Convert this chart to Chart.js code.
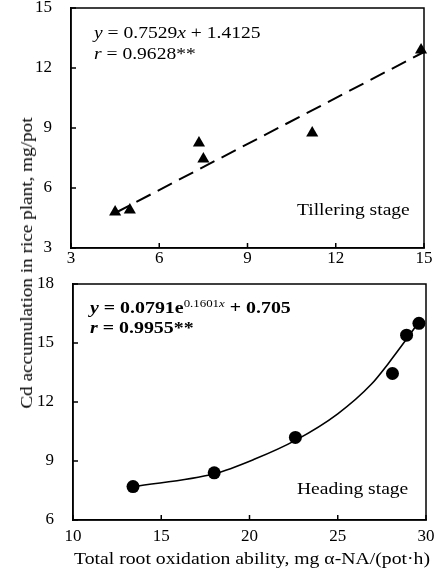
<!DOCTYPE html>
<html>
<head>
<meta charset="utf-8">
<script src="https://cdn.jsdelivr.net/npm/chart.js@4.4.0/dist/chart.umd.min.js"></script>
<style>
  body { margin: 0; background: #fff; }
  #wrap { position: relative; width: 444px; height: 578px; font-family: "Liberation Serif", serif; color: #000; }
  .box { position: absolute; left: 0; width: 444px; }
  .note { position: absolute; font-size: 17px; line-height: 21px; white-space: nowrap;
          transform: scaleX(1.15); transform-origin: 0 0; }
  .bold { font-weight: bold; line-height: 20px; transform: scaleX(1.17); }
  sup { font-size: 11px; font-weight: normal; vertical-align: 6px; line-height: 0; }
  #ytitle { position: absolute; left: 27px; top: 263px; font-size: 17px; white-space: nowrap;
            transform: translate(-50%, -50%) rotate(-90deg) scaleX(1.13); }
  #xtitle { position: absolute; left: 252px; top: 549px; font-size: 17px; white-space: nowrap;
            transform: translateX(-50%) scaleX(1.16); }
</style>
</head>
<body>
<div id="wrap">
  <div class="box" style="top:0;height:270px"><canvas id="tiller" width="444" height="270"></canvas></div>
  <div class="box" style="top:270px;height:308px"><canvas id="heading" width="444" height="308"></canvas></div>

  <div id="ytitle">Cd accumulation in rice plant, mg/pot</div>
  <div id="xtitle">Total root oxidation ability, mg &alpha;-NA/(pot&middot;h)</div>

  <div class="note" style="left:94px;top:22px"><i>y</i> = 0.7529<i>x</i> + 1.4125<br><i>r</i> = 0.9628**</div>
  <div class="note" style="left:297px;top:199px">Tillering stage</div>

  <div class="note bold" style="left:90px;top:298px"><i>y</i> = 0.0791e<sup>0.1601<i>x</i></sup> + 0.705<br><i>r</i> = 0.9955**</div>
  <div class="note" style="left:297px;top:478px">Heading stage</div>
</div>

<script>
// tillering stage: measured points and linear fit ends
const tillerX = [4.5, 5.0, 7.35, 7.5, 11.2, 14.9];
const tillerY = [4.8, 4.9, 8.25, 7.45, 8.75, 12.9];
const tillerFitX = [4.5, 15];
const tillerFitY = [4.75, 12.8];
const tillerTicksX = [3, 6, 9, 12, 15];
const tillerTicksY = [3, 6, 9, 12, 15];

const headX = [13.4, 18.0, 22.6, 28.1, 28.9, 29.6];
const headY = [7.7, 8.4, 10.2, 13.45, 15.4, 16.0];
const headFitX = [13.4, 18.0, 20.3, 22.6, 25.0, 26.9, 27.9, 28.9, 29.5];
const headFitY = [7.7, 8.35, 9.1, 10.05, 11.4, 12.9, 14.0, 15.2, 15.95];
const headTicksX = [10, 15, 20, 25, 30];
const headTicksY = [6, 9, 12, 15, 18];

const ink = '#000';
const tickFont = { family: 'Liberation Serif', size: 17 };

// box round the plot plus short tick marks pointing inwards
const frame = {
  id: 'frame',
  afterDraw(chart) {
    const a = chart.chartArea, ctx = chart.ctx;
    const sx = chart.scales.x, sy = chart.scales.y;
    ctx.save();
    ctx.strokeStyle = ink;
    ctx.lineWidth = 1.5;
    ctx.strokeRect(a.left, a.top, a.right - a.left, a.bottom - a.top);
    ctx.beginPath();
    sx.ticks.forEach(t => {
      const px = sx.getPixelForValue(t.value);
      ctx.moveTo(px, a.bottom);
      ctx.lineTo(px, a.bottom - 5);
    });
    sy.ticks.forEach(t => {
      const py = sy.getPixelForValue(t.value);
      ctx.moveTo(a.left, py);
      ctx.lineTo(a.left + 5, py);
    });
    ctx.stroke();
    ctx.restore();
  }
};

function pts(xs, ys) {
  return xs.map((x, i) => ({ x: x, y: ys[i] }));
}

// fixed axis box, no automatic label padding so the plot area sits where the layout says
function fixSize(s, w, h) {
  if (w !== null) s.width = w;
  if (h !== null) s.height = h;
  s.paddingTop = 0; s.paddingBottom = 0; s.paddingLeft = 0; s.paddingRight = 0;
}

function axis(ticks, pad, fit) {
  return {
    type: 'linear',
    min: ticks[0],
    max: ticks[ticks.length - 1],
    afterBuildTicks: s => { s.ticks = ticks.map(v => ({ value: v })); },
    afterFit: fit,
    grid: { display: false },
    border: { color: ink, width: 1.5 },
    ticks: { color: ink, font: tickFont, padding: pad }
  };
}

function makeChart(id, cfg) {
  new Chart(document.getElementById(id), {
    type: 'scatter',
    data: {
      datasets: [{
        data: pts(cfg.fitX, cfg.fitY),
        showLine: true,
        borderColor: ink,
        borderWidth: cfg.lineWidth,
        borderDash: cfg.dash,
        pointRadius: 0,
        tension: cfg.tension,
        cubicInterpolationMode: cfg.tension ? 'monotone' : 'default',
        clip: false
      }, {
        data: pts(cfg.x, cfg.y),
        pointStyle: cfg.marker,
        pointRadius: cfg.radius,
        backgroundColor: ink,
        borderColor: ink,
        borderWidth: 0,
        clip: false
      }]
    },
    options: {
      responsive: false,
      animation: false,
      layout: { padding: cfg.padding },
      plugins: { legend: { display: false }, tooltip: { enabled: false } },
      scales: {
        x: Object.assign(axis(cfg.ticksX, cfg.xPad, s => fixSize(s, null, cfg.xHeight)), { position: 'bottom' }),
        y: Object.assign(axis(cfg.ticksY, 11, s => fixSize(s, cfg.yWidth, null)), { position: 'left' })
      }
    },
    plugins: [frame]
  });
}

makeChart('tiller', {
  x: tillerX, y: tillerY, fitX: tillerFitX, fitY: tillerFitY,
  ticksX: tillerTicksX, ticksY: tillerTicksY,
  marker: 'triangle', radius: 7, dash: [16, 8], lineWidth: 2, tension: 0,
  padding: { top: 8, right: 20, left: 0, bottom: 0 },
  xHeight: 22, yWidth: 71, xPad: -8
});

makeChart('heading', {
  x: headX, y: headY, fitX: headFitX, fitY: headFitY,
  ticksX: headTicksX, ticksY: headTicksY,
  marker: 'circle', radius: 6.5, dash: [], lineWidth: 1.6, tension: 0.4,
  padding: { top: 14, right: 18, left: 0, bottom: 0 },
  xHeight: 58, yWidth: 73, xPad: -2
});
</script>
</body>
</html>
